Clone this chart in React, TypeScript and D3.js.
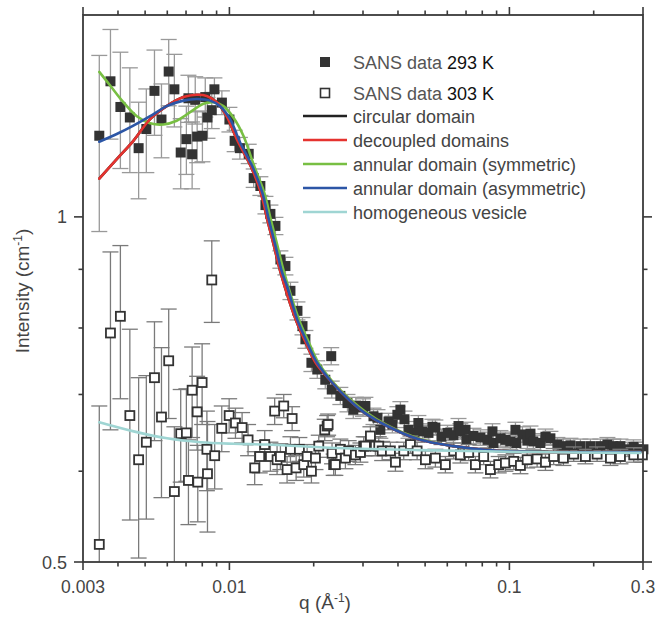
import React, { useEffect, useRef } from "react";
import { select, scaleLog, line, curveCatmullRom } from "d3";

// SANS data 293 K (filled squares)
const q293 = [0.00343, 0.00376, 0.00408, 0.00441, 0.00474, 0.00505, 0.0054, 0.00572, 0.00607, 0.00636, 0.0067, 0.00702, 0.00714, 0.00736, 0.00755, 0.00767, 0.00801, 0.0082, 0.00835, 0.00865, 0.00884, 0.0094, 0.01, 0.01044, 0.0109, 0.01172, 0.01221, 0.0129, 0.01345, 0.01401, 0.0146, 0.01521, 0.01585, 0.01652, 0.0175, 0.01824, 0.01868, 0.01963, 0.0206, 0.022, 0.0231, 0.0232, 0.0249, 0.0264, 0.0277, 0.0283, 0.03, 0.0306, 0.0327, 0.0338, 0.0346, 0.037, 0.0382, 0.0398, 0.0408, 0.0422, 0.0436, 0.0458, 0.0473, 0.0489, 0.0514, 0.0531, 0.0544, 0.0572, 0.0601, 0.0631, 0.0658, 0.0668, 0.0697, 0.0702, 0.0744, 0.0788, 0.0835, 0.0870, 0.0877, 0.0929, 0.0968, 0.1008, 0.1051, 0.1059, 0.1113, 0.1159, 0.1189, 0.1218, 0.129, 0.1345, 0.1401, 0.1484, 0.1559, 0.1652, 0.1793, 0.1947, 0.2113, 0.2239, 0.2352, 0.2492, 0.2639, 0.2774, 0.2889, 0.301];
const I293 = [1.177, 1.313, 1.247, 1.221, 1.148, 1.193, 1.288, 1.216, 1.339, 1.292, 1.138, 1.169, 1.269, 1.134, 1.265, 1.175, 1.177, 1.272, 1.221, 1.239, 1.292, 1.258, 1.216, 1.165, 1.148, 1.135, 1.081, 1.064, 1.024, 1.006, 0.982, 0.918, 0.906, 0.862, 0.828, 0.803, 0.782, 0.746, 0.736, 0.721, 0.756, 0.707, 0.698, 0.688, 0.679, 0.684, 0.682, 0.684, 0.67, 0.668, 0.652, 0.663, 0.659, 0.672, 0.679, 0.666, 0.652, 0.648, 0.661, 0.65, 0.648, 0.656, 0.655, 0.643, 0.648, 0.645, 0.657, 0.65, 0.652, 0.639, 0.644, 0.642, 0.639, 0.650, 0.635, 0.641, 0.639, 0.637, 0.652, 0.635, 0.646, 0.638, 0.647, 0.637, 0.635, 0.643, 0.641, 0.633, 0.631, 0.632, 0.631, 0.631, 0.631, 0.633, 0.631, 0.631, 0.627, 0.63, 0.627, 0.627];
const err293 = [0.206, 0.144, 0.145, 0.128, 0.111, 0.1, 0.11, 0.09, 0.089, 0.094, 0.08, 0.08, 0.06, 0.076, 0.06, 0.06, 0.06, 0.05, 0.05, 0.045, 0.03, 0.03, 0.03, 0.025, 0.025, 0.022, 0.02, 0.02, 0.018, 0.018, 0.017, 0.016, 0.016, 0.015, 0.015, 0.014, 0.014, 0.013, 0.013, 0.013, 0.013, 0.012, 0.012, 0.012, 0.012, 0.012, 0.012, 0.012, 0.011, 0.011, 0.011, 0.011, 0.011, 0.011, 0.011, 0.011, 0.011, 0.01, 0.01, 0.01, 0.01, 0.01, 0.01, 0.01, 0.01, 0.01, 0.01, 0.01, 0.01, 0.01, 0.01, 0.01, 0.01, 0.01, 0.01, 0.01, 0.01, 0.01, 0.01, 0.01, 0.01, 0.01, 0.01, 0.01, 0.01, 0.01, 0.009, 0.009, 0.009, 0.009, 0.009, 0.009, 0.009, 0.009, 0.009, 0.009, 0.009, 0.009, 0.009, 0.009];

// SANS data 303 K (open squares)
const q303 = [0.00343, 0.00376, 0.00408, 0.00441, 0.00474, 0.00505, 0.0054, 0.00572, 0.00607, 0.00636, 0.0067, 0.00702, 0.00714, 0.00736, 0.00767, 0.00771, 0.00799, 0.00831, 0.00835, 0.00865, 0.00886, 0.00939, 0.00998, 0.01051, 0.0111, 0.01166, 0.01231, 0.01283, 0.01337, 0.01401, 0.01451, 0.0148, 0.01521, 0.01563, 0.01607, 0.01652, 0.01675, 0.01731, 0.01778, 0.01843, 0.01895, 0.01963, 0.02029, 0.02085, 0.0219, 0.02234, 0.02252, 0.02326, 0.02357, 0.0239, 0.02491, 0.02596, 0.02667, 0.02818, 0.02937, 0.03018, 0.0306, 0.03189, 0.03322, 0.03415, 0.03512, 0.03758, 0.03917, 0.04194, 0.04431, 0.04682, 0.05012, 0.05441, 0.05907, 0.06325, 0.06683, 0.07155, 0.07561, 0.08093, 0.08555, 0.09158, 0.09677, 0.1036, 0.1095, 0.1157, 0.1256, 0.1345, 0.1439, 0.1559, 0.1697, 0.1868, 0.2057, 0.2295, 0.2492, 0.278, 0.2985];
const I303 = [0.518, 0.792, 0.819, 0.671, 0.614, 0.636, 0.724, 0.669, 0.749, 0.576, 0.647, 0.648, 0.589, 0.706, 0.676, 0.587, 0.717, 0.627, 0.597, 0.881, 0.619, 0.654, 0.671, 0.661, 0.655, 0.639, 0.604, 0.618, 0.633, 0.618, 0.677, 0.614, 0.618, 0.684, 0.602, 0.627, 0.667, 0.604, 0.627, 0.608, 0.618, 0.6, 0.616, 0.631, 0.652, 0.657, 0.659, 0.622, 0.608, 0.608, 0.627, 0.616, 0.625, 0.62, 0.623, 0.631, 0.631, 0.644, 0.631, 0.631, 0.625, 0.625, 0.611, 0.625, 0.633, 0.625, 0.614, 0.616, 0.608, 0.625, 0.62, 0.623, 0.608, 0.618, 0.602, 0.608, 0.61, 0.612, 0.607, 0.614, 0.615, 0.611, 0.618, 0.616, 0.621, 0.618, 0.621, 0.616, 0.618, 0.62, 0.62];
const err303 = [0.166, 0.14, 0.125, 0.127, 0.11, 0.091, 0.086, 0.1, 0.082, 0.08, 0.06, 0.06, 0.05, 0.064, 0.05, 0.045, 0.058, 0.05, 0.066, 0.072, 0.04, 0.03, 0.023, 0.02, 0.02, 0.02, 0.02, 0.02, 0.018, 0.018, 0.018, 0.018, 0.016, 0.016, 0.016, 0.016, 0.016, 0.015, 0.015, 0.015, 0.015, 0.014, 0.014, 0.014, 0.014, 0.014, 0.014, 0.013, 0.013, 0.013, 0.013, 0.013, 0.013, 0.012, 0.012, 0.012, 0.012, 0.012, 0.012, 0.012, 0.012, 0.011, 0.011, 0.011, 0.011, 0.011, 0.011, 0.011, 0.01, 0.01, 0.01, 0.01, 0.01, 0.01, 0.01, 0.01, 0.01, 0.01, 0.01, 0.01, 0.01, 0.01, 0.01, 0.009, 0.009, 0.009, 0.009, 0.009, 0.009, 0.009, 0.009];

// model curves
const qCircular = [0.00343, 0.00396, 0.00454, 0.00521, 0.00597, 0.00685, 0.00764, 0.0083, 0.00901, 0.00978, 0.01062, 0.0119, 0.01293, 0.01365, 0.01442, 0.01524, 0.01724, 0.01872, 0.02032, 0.02326, 0.02667, 0.0306, 0.03658, 0.0481, 0.06325, 0.08326, 0.1095, 0.2938];
const ICircular = [1.08, 1.123, 1.165, 1.217, 1.249, 1.272, 1.278, 1.275, 1.259, 1.224, 1.169, 1.108, 1.051, 0.995, 0.944, 0.894, 0.814, 0.777, 0.746, 0.717, 0.693, 0.674, 0.657, 0.639, 0.631, 0.626, 0.624, 0.6236];
const qDecoupled = [0.00343, 0.00396, 0.00454, 0.00521, 0.00597, 0.00685, 0.00764, 0.0083, 0.00901, 0.00978, 0.01062, 0.0119, 0.01293, 0.01365, 0.01442, 0.01524, 0.01724, 0.01872, 0.02032, 0.02326, 0.02667, 0.0306, 0.03658, 0.0481, 0.06325, 0.08326, 0.1095, 0.2938];
const IDecoupled = [1.08, 1.123, 1.165, 1.217, 1.249, 1.272, 1.278, 1.275, 1.259, 1.224, 1.169, 1.108, 1.051, 0.995, 0.944, 0.894, 0.814, 0.777, 0.746, 0.717, 0.693, 0.674, 0.657, 0.639, 0.631, 0.626, 0.624, 0.6236];
const qSymmetric = [0.00343, 0.00375, 0.00418, 0.00467, 0.00521, 0.00581, 0.00648, 0.00724, 0.00808, 0.00877, 0.00952, 0.01033, 0.01122, 0.01225, 0.0133, 0.01405, 0.01484, 0.01569, 0.01771, 0.01923, 0.02079, 0.02326, 0.02667, 0.0306, 0.03658, 0.0481, 0.06325, 0.08326, 0.1095, 0.2938];
const ISymmetric = [1.338, 1.302, 1.259, 1.224, 1.207, 1.204, 1.213, 1.234, 1.255, 1.259, 1.249, 1.221, 1.177, 1.108, 1.051, 0.995, 0.944, 0.894, 0.814, 0.777, 0.746, 0.719, 0.695, 0.676, 0.658, 0.64, 0.631, 0.626, 0.6242, 0.6236];
const qAsymmetric = [0.00343, 0.00396, 0.00454, 0.00521, 0.00597, 0.00685, 0.00764, 0.00853, 0.00926, 0.01006, 0.01092, 0.01205, 0.01309, 0.01382, 0.0146, 0.01543, 0.01607, 0.01746, 0.01895, 0.02056, 0.02326, 0.02667, 0.0306, 0.03658, 0.0481, 0.06325, 0.08326, 0.1095, 0.2938];
const IAsymmetric = [1.163, 1.181, 1.201, 1.224, 1.249, 1.263, 1.267, 1.263, 1.249, 1.217, 1.161, 1.108, 1.051, 0.995, 0.944, 0.894, 0.87, 0.814, 0.777, 0.746, 0.717, 0.693, 0.674, 0.657, 0.639, 0.631, 0.626, 0.6242, 0.6236];
const qHomogeneous = [0.00343, 0.00455, 0.00599, 0.00788, 0.01036, 0.01363, 0.02294, 0.0481, 0.1095, 0.2938];
const IHomogeneous = [0.662, 0.65, 0.641, 0.636, 0.634, 0.633, 0.629, 0.626, 0.6236, 0.6225];

// axes
const xMajorTicks = [0.003, 0.01, 0.1, 0.3];
const xTickLabels = ["0.003", "0.01", "0.1", "0.3"];
const xMinorTicks = [0.004, 0.005, 0.006, 0.007, 0.008, 0.009, 0.02, 0.03, 0.04, 0.05, 0.06, 0.07, 0.08, 0.09, 0.2];
const yMajorTicks = [0.5, 1];
const yTickLabels = ["0.5", "1"];
const yMinorTicks = [0.6, 0.7, 0.8, 0.9];

const curveNames = ["circular domain", "decoupled domains", "annular domain (symmetric)", "annular domain (asymmetric)", "homogeneous vesicle"];

const font = "'Liberation Sans', Arial, Helvetica, sans-serif";

export default function App() {
  const chartRef = useRef<SVGSVGElement>(null);
  const svgWidth = 658;
  const svgHeight = 623;

  useEffect(() => {
    const svg = select(chartRef.current);
    svg.selectAll("*").remove();

    const left = 83, right = 643, top = 15, bottom = 562;
    const x = scaleLog().domain([0.003, 0.3]).range([left, right]);
    const y = scaleLog().domain([0.5, 1.5]).range([bottom, top]);

    svg.append("defs").append("clipPath").attr("id", "plot-clip")
      .append("rect").attr("x", left).attr("y", top).attr("width", right - left).attr("height", bottom - top);

    const axisColor = "#3a3a3a";
    const textColor = "#444";

    // error bars + markers
    const drawSeries = (qs, Is, errs, filled) => {
      const pts = qs.map((q, i) => ({ q, I: Is[i], e: errs[i] }));
      const g = svg.append("g").attr("clip-path", "url(#plot-clip)")
        .attr("stroke", filled ? "#999" : "#7a7a7a").attr("stroke-width", 1.3).attr("fill", "none");
      pts.forEach((d) => {
        const cx = x(d.q);
        const y1 = y(d.I + d.e);
        const y0 = y(Math.max(d.I - d.e, 0.45));
        const cap = 8;
        g.append("line").attr("x1", cx).attr("x2", cx).attr("y1", y1).attr("y2", y0);
        g.append("line").attr("x1", cx - cap).attr("x2", cx + cap).attr("y1", y1).attr("y2", y1);
        g.append("line").attr("x1", cx - cap).attr("x2", cx + cap).attr("y1", y0).attr("y2", y0);
      });
      const s = filled ? 10 : 9;
      svg.append("g").selectAll("rect")
        .data(pts)
        .join("rect")
        .attr("x", (d) => x(d.q) - s / 2)
        .attr("y", (d) => y(d.I) - s / 2)
        .attr("width", s)
        .attr("height", s)
        .attr("fill", filled ? "#333" : "#fff")
        .attr("stroke", "#333")
        .attr("stroke-width", filled ? 0 : 1.8);
    };

    drawSeries(q293, I293, err293, true);
    drawSeries(q303, I303, err303, false);

    // model curves
    const curveGen = line()
      .x((d) => x(d[0]))
      .y((d) => y(d[1]))
      .curve(curveCatmullRom.alpha(0.5));

    const curves = [
      { q: qCircular, I: ICircular, color: "#222" },
      { q: qSymmetric, I: ISymmetric, color: "#78bf43" },
      { q: qDecoupled, I: IDecoupled, color: "#e5332f" },
      { q: qAsymmetric, I: IAsymmetric, color: "#2c56a6" },
      { q: qHomogeneous, I: IHomogeneous, color: "#9fd5d3" },
    ];
    curves.forEach((c) => {
      svg.append("path")
        .datum(c.q.map((q, i) => [q, c.I[i]]))
        .attr("d", curveGen)
        .attr("fill", "none")
        .attr("stroke", c.color)
        .attr("stroke-width", 2.6)
        .attr("stroke-linecap", "round");
    });

    // frame
    svg.append("rect").attr("x", left).attr("y", top).attr("width", right - left).attr("height", bottom - top)
      .attr("fill", "none").attr("stroke", axisColor).attr("stroke-width", 1.8);

    const ticks = svg.append("g").attr("stroke", axisColor).attr("stroke-width", 1.6);
    const xt = (v, len) => {
      ticks.append("line").attr("x1", x(v)).attr("x2", x(v)).attr("y1", bottom).attr("y2", bottom + len);
      ticks.append("line").attr("x1", x(v)).attr("x2", x(v)).attr("y1", top).attr("y2", top - len);
    };
    const yt = (v, len) => {
      ticks.append("line").attr("x1", left).attr("x2", left - len).attr("y1", y(v)).attr("y2", y(v));
      ticks.append("line").attr("x1", right).attr("x2", right + len).attr("y1", y(v)).attr("y2", y(v));
    };
    xMajorTicks.forEach((v) => xt(v, 8));
    xMinorTicks.forEach((v) => xt(v, 4.5));
    yMajorTicks.forEach((v) => yt(v, 9));
    yMinorTicks.forEach((v) => yt(v, 4.5));

    svg.append("g").selectAll("text")
      .data(xMajorTicks)
      .join("text")
      .attr("x", (d) => x(d))
      .attr("y", 593)
      .attr("text-anchor", "middle")
      .attr("font-family", font)
      .attr("font-size", 17.5)
      .attr("fill", textColor)
      .text((d, i) => xTickLabels[i]);

    svg.append("g").selectAll("text")
      .data(yMajorTicks)
      .join("text")
      .attr("x", 67)
      .attr("y", (d) => y(d) + 6.5)
      .attr("text-anchor", "end")
      .attr("font-family", font)
      .attr("font-size", 18)
      .attr("fill", textColor)
      .text((d, i) => yTickLabels[i]);

    // axis titles
    const xTitle = svg.append("text").attr("x", 325).attr("y", 609).attr("text-anchor", "middle")
      .attr("font-family", font).attr("font-size", 19).attr("fill", textColor);
    xTitle.append("tspan").text("q (Å");
    xTitle.append("tspan").attr("font-size", 12).attr("dy", -7).text("-1");
    xTitle.append("tspan").attr("dy", 7).text(")");

    const yTitle = svg.append("text").attr("transform", "translate(29,291) rotate(-90)").attr("text-anchor", "middle")
      .attr("font-family", font).attr("font-size", 19).attr("fill", textColor);
    yTitle.append("tspan").text("Intensity (cm");
    yTitle.append("tspan").attr("font-size", 12).attr("dy", -7).text("-1");
    yTitle.append("tspan").attr("dy", 7).text(")");

    // legend
    const lg = svg.append("g").attr("font-family", font).attr("font-size", 18);
    lg.append("rect").attr("x", 320).attr("y", 57).attr("width", 10).attr("height", 10).attr("fill", "#333");
    lg.append("rect").attr("x", 320.5).attr("y", 88.5).attr("width", 9).attr("height", 9)
      .attr("fill", "#fff").attr("stroke", "#333").attr("stroke-width", 1.6);
    [["293 K", 62], ["303 K", 93]].forEach(([k, cy]) => {
      const t = lg.append("text").attr("x", 353).attr("y", cy + 6.5);
      t.append("tspan").attr("fill", "#555").text("SANS data ");
      t.append("tspan").attr("fill", "#111").text(k);
    });
    const legendColors = ["#222", "#e5332f", "#78bf43", "#2c56a6", "#9fd5d3"];
    curveNames.forEach((name, i) => {
      const cy = 116 + i * 24;
      lg.append("line").attr("x1", 303).attr("x2", 347).attr("y1", cy).attr("y2", cy)
        .attr("stroke", legendColors[i]).attr("stroke-width", 2.4);
      lg.append("text").attr("x", 353).attr("y", cy + 6.5).attr("fill", textColor).text(name);
    });
  }, []);

  return (
    <svg
      ref={chartRef}
      width={svgWidth}
      height={svgHeight}
      style={{ position: "absolute", left: 0, top: 0, background: "#fff" }}
    />
  );
}
